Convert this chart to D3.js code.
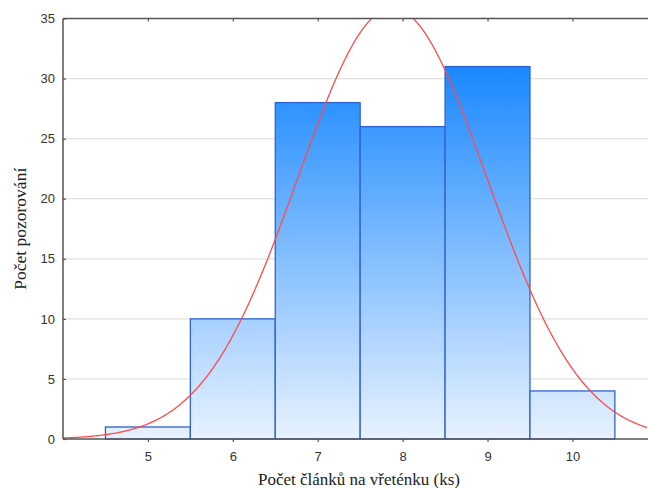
<!DOCTYPE html>
<html>
<head>
<meta charset="utf-8">
<script src="https://cdn.jsdelivr.net/npm/d3@7"></script>
<style>
  body { margin: 0; background: #fff; }
  svg { display: block; }
</style>
</head>
<body>
<div id="chart"></div>
<script>
// histogram bins (bin centres, width 1) and counts
const binCentres = [5, 6, 7, 8, 9, 10];
const counts = [1, 10, 28, 26, 31, 4];
const yTicks = [0, 5, 10, 15, 20, 25, 30, 35];
const xTicks = [5, 6, 7, 8, 9, 10];

const width = 648, height = 488;
const margin = {top: 18.5, right: 0, bottom: 49, left: 63};

const svg = d3.select('#chart').append('svg')
  .attr('width', width)
  .attr('height', height);

const x = d3.scaleLinear().domain([4, 10.89]).range([margin.left, width - margin.right]);
const y = d3.scaleLinear().domain([0, 35]).range([height - margin.bottom, margin.top]);

const defs = svg.append('defs');
const grad = defs.append('linearGradient')
  .attr('id', 'barFill')
  .attr('gradientUnits', 'userSpaceOnUse')
  .attr('x1', 0).attr('x2', 0)
  .attr('y1', y(31)).attr('y2', y(0));
grad.append('stop').attr('offset', 0).attr('stop-color', '#1a88ff');
grad.append('stop').attr('offset', 1).attr('stop-color', '#e8f2ff');

defs.append('clipPath').attr('id', 'plotClip')
  .append('rect')
    .attr('x', margin.left).attr('y', margin.top)
    .attr('width', width - margin.left - margin.right)
    .attr('height', height - margin.top - margin.bottom);

// gridlines
svg.append('g')
  .selectAll('line')
  .data(yTicks.filter(t => t > 0 && t < 35))
  .join('line')
    .attr('x1', margin.left).attr('x2', width)
    .attr('y1', d => y(d)).attr('y2', d => y(d))
    .attr('stroke', '#e2e2e2')
    .attr('stroke-width', 1.2);

// bars
svg.append('g')
  .selectAll('rect')
  .data(binCentres.map((c, i) => ({c, n: counts[i]})))
  .join('rect')
    .attr('x', d => x(d.c - 0.5))
    .attr('width', d => x(d.c + 0.5) - x(d.c - 0.5))
    .attr('y', d => y(d.n))
    .attr('height', d => y(0) - y(d.n))
    .attr('fill', 'url(#barFill)')
    .attr('stroke', '#2f62d0')
    .attr('stroke-width', 1.3);

// fitted normal curve from the binned data
const total = d3.sum(counts);
const mean = d3.sum(binCentres, (c, i) => c * counts[i]) / total;
const sd = Math.sqrt(d3.sum(binCentres, (c, i) => counts[i] * (c - mean) ** 2) / (total - 1));
const normal = v => total * Math.exp(-0.5 * ((v - mean) / sd) ** 2) / (sd * Math.sqrt(2 * Math.PI));
const curveXs = d3.range(4, 10.9, 0.02);

svg.append('path')
  .datum(curveXs)
  .attr('clip-path', 'url(#plotClip)')
  .attr('fill', 'none')
  .attr('stroke', '#ff4a4a')
  .attr('stroke-width', 1.3)
  .attr('d', d3.line().x(d => x(d)).y(d => y(normal(d))));

// axes
const axisColor = '#555';
const frame = svg.append('g').attr('stroke', axisColor).attr('stroke-width', 1.5);
frame.append('line')
  .attr('x1', margin.left).attr('x2', width)
  .attr('y1', y(0)).attr('y2', y(0));
frame.append('line')
  .attr('x1', margin.left).attr('x2', width)
  .attr('y1', y(35)).attr('y2', y(35));
frame.append('line')
  .attr('x1', margin.left).attr('x2', margin.left)
  .attr('y1', y(0)).attr('y2', y(35));

const yAxis = svg.append('g')
  .attr('transform', `translate(${margin.left},0)`)
  .call(d3.axisLeft(y).tickValues(yTicks).tickSizeInner(-3).tickSizeOuter(0).tickPadding(8)
    .tickFormat(d3.format('d')));
yAxis.select('.domain').remove();
yAxis.selectAll('.tick line').attr('stroke', axisColor).attr('stroke-width', 1.2);
yAxis.selectAll('.tick text')
  .attr('fill', '#333')
  .style('font', '13px "Liberation Sans", Arial, sans-serif');

const xAxis = svg.append('g')
  .attr('transform', `translate(0,${y(0)})`)
  .call(d3.axisBottom(x).tickValues(xTicks).tickSizeInner(3).tickSizeOuter(0).tickPadding(10)
    .tickFormat(d3.format('d')));
xAxis.select('.domain').remove();
xAxis.selectAll('.tick line').attr('stroke', axisColor).attr('stroke-width', 1.2);
xAxis.selectAll('.tick text')
  .attr('fill', '#333')
  .style('font', '13px "Liberation Sans", Arial, sans-serif');

// inward ticks on the top frame
const xTop = svg.append('g')
  .attr('transform', `translate(0,${y(35)})`)
  .call(d3.axisBottom(x).tickValues(xTicks).tickSizeInner(3).tickSizeOuter(0).tickFormat(''));
xTop.select('.domain').remove();
xTop.selectAll('.tick line').attr('stroke', axisColor).attr('stroke-width', 1.2);

// titles
svg.append('text')
  .attr('x', 359).attr('y', 485)
  .attr('text-anchor', 'middle')
  .attr('fill', '#222')
  .style('font', '17px "Liberation Serif", "DejaVu Serif", serif')
  .text('Počet článků na vřeténku (ks)');

svg.append('text')
  .attr('transform', `translate(26,${(y(0) + y(35)) / 2}) rotate(-90)`)
  .attr('text-anchor', 'middle')
  .attr('fill', '#222')
  .style('font', '17.5px "Liberation Serif", "DejaVu Serif", serif')
  .text('Počet pozorování');
</script>
</body>
</html>
